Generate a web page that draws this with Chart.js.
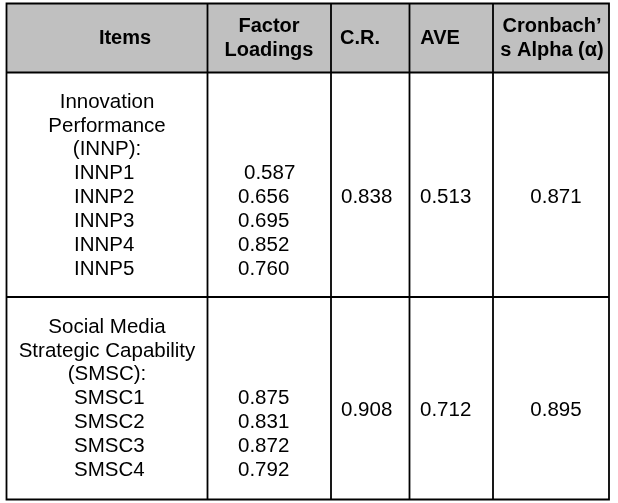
<!DOCTYPE html>
<html>
<head>
<meta charset="utf-8">
<script src="https://cdn.jsdelivr.net/npm/chart.js@4/dist/chart.umd.min.js"></script>
<style>
html,body{margin:0;padding:0;background:#fff;}
canvas{display:block;}
</style>
</head>
<body>
<canvas id="c" width="618" height="503"></canvas>
<script>
// ---- data ----
const headerLabels = [["Items"], ["Factor", "Loadings"], ["C.R."], ["AVE"], ["Cronbach\u2019", "s Alpha (\u03b1)"]];
const groupTitles = [["Innovation", "Performance", "(INNP):"], ["Social Media", "Strategic Capability", "(SMSC):"]];
const itemCodes = [["INNP1", "INNP2", "INNP3", "INNP4", "INNP5"], ["SMSC1", "SMSC2", "SMSC3", "SMSC4"]];
const factorLoadings = [[0.587, 0.656, 0.695, 0.852, 0.760], [0.875, 0.831, 0.872, 0.792]];
const compositeReliability = [0.838, 0.908];
const averageVarianceExtracted = [0.513, 0.712];
const cronbachAlpha = [0.871, 0.895];

// ---- layout (in scale units) ----
const colEdges = [6.5, 207.5, 331, 409.5, 493, 609];
const rowEdges = [3.5, 72.5, 297, 499.5];
const groupFirstLine = [102, 327];
const groupValueLine = [197, 410];
const linePitch = 23.9;

const tablePlugin = {
  id: 'tablePlugin',
  afterDraw(chart) {
    const ctx = chart.ctx;
    const sx = chart.scales.x, sy = chart.scales.y;
    const X = v => sx.getPixelForValue(v);
    const Y = v => sy.getPixelForValue(v);
    ctx.save();
    // header background
    ctx.fillStyle = '#c0c0c0';
    ctx.fillRect(X(colEdges[0]), Y(rowEdges[0]), X(colEdges[5]) - X(colEdges[0]), Y(rowEdges[1]) - Y(rowEdges[0]));
    // grid lines
    ctx.strokeStyle = '#000';
    ctx.lineWidth = 1.8;
    ctx.beginPath();
    rowEdges.forEach(r => { ctx.moveTo(X(colEdges[0]) - 0.9, Y(r)); ctx.lineTo(X(colEdges[5]) + 0.9, Y(r)); });
    colEdges.forEach(c => { ctx.moveTo(X(c), Y(rowEdges[0])); ctx.lineTo(X(c), Y(rowEdges[3])); });
    ctx.stroke();

    ctx.fillStyle = '#000';
    ctx.textBaseline = 'middle';
    // header
    ctx.font = 'bold 20px "Liberation Sans", Arial, sans-serif';
    const headerCenters = [125, 269, 360, 440, 552];
    headerLabels.forEach((lines, i) => {
      ctx.textAlign = 'center';
      const mid = 38.5;
      lines.forEach((t, k) => {
        const yy = mid + (k - (lines.length - 1) / 2) * 24;
        ctx.fillText(t, X(headerCenters[i]), Y(yy));
      });
    });
    // body
    ctx.font = '20.5px "Liberation Sans", Arial, sans-serif';
    groupTitles.forEach((title, g) => {
      ctx.textAlign = 'center';
      title.forEach((t, k) => {
        ctx.fillText(t, X(107), Y(groupFirstLine[g] + k * linePitch));
      });
      ctx.textAlign = 'left';
      itemCodes[g].forEach((t, k) => {
        ctx.fillText(t, X(74), Y(groupFirstLine[g] + (title.length + k) * linePitch));
      });
      factorLoadings[g].forEach((v, k) => {
        const x0 = (g === 0 && k === 0) ? 244 : 238;
        ctx.fillText(v.toFixed(3), X(x0), Y(groupFirstLine[g] + (title.length + k) * linePitch));
      });
      ctx.fillText(compositeReliability[g].toFixed(3), X(341), Y(groupValueLine[g]));
      ctx.fillText(averageVarianceExtracted[g].toFixed(3), X(420), Y(groupValueLine[g]));
      ctx.textAlign = 'center';
      ctx.fillText(cronbachAlpha[g].toFixed(3), X(556), Y(groupValueLine[g]));
    });
    ctx.restore();
  }
};

new Chart(document.getElementById('c'), {
  type: 'scatter',
  data: { datasets: [{ data: [], pointRadius: 0 }] },
  options: {
    responsive: false,
    animation: false,
    layout: { padding: 0 },
    plugins: { legend: { display: false }, tooltip: { enabled: false } },
    scales: {
      x: { type: 'linear', min: 0, max: 618, display: false },
      y: { type: 'linear', min: 0, max: 503, reverse: true, display: false }
    }
  },
  plugins: [tablePlugin]
});
</script>
</body>
</html>
